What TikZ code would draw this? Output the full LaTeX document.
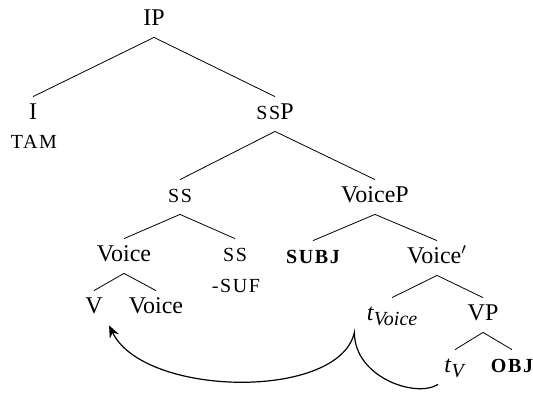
\documentclass[12pt,tikz,border=0pt]{standalone}
\usepackage{fontspec}
\setmainfont{Liberation Serif}
\newfontfamily\scfont[LetterSpace=8]{Liberation Serif}
\usepackage{tikz}
\usetikzlibrary{positioning,%
  arrows.meta%
}
\newcommand{\smc}[1]{{\footnotesize\scfont #1}}
\newcommand{\trc}[1]{\textit{t}\raisebox{-.5ex}{\footnotesize\textit{#1}}}

\begin{document}
\begin{tikzpicture}
                    [
                        x=.5pt, y=-.5pt,
                        every node/.style={anchor=base, inner sep=3pt, text height=8pt, text depth=3pt},
                        move/.style={semithick, -{Stealth[length=6pt,width=5pt]}}
                    ]

                    % Rahmen
                    \useasboundingbox (0,0) rectangle (533,393);

                    \node (ip) at (154,25) {IP};
                    \node (i) at (33,119) {I};
                    \node (tam) at (34,148) {\smc{TAM}};
                    \node (ssp) at (275,119) {\smc{SS}P};
                    \node (ss) at (180,202) {\smc{SS}};
                    \node (voicep) at (375,202) {VoiceP};
                    \node (voice) at (124,261) {Voice};
                    \node (ssx) at (235,261) {\smc{SS}};
                    \node (suf) at (236,292) {\smc{-SUF}};
                    \node (subj) at (313,263) {\smc{\bfseries SUBJ}};
                    \node (voicebar) at (437,263) {Voice$'$};
                    \node (v) at (94,313) {V};
                    \node (voicex) at (156,313) {Voice};
                    \node (tvoice) at (392,320) {\trc{Voice}};
                    \node (vp) at (483,320) {VP};
                    \node (tv) at (455,372) {\trc{V}};
                    \node (obj) at (512,372) {\smc{\bfseries OBJ}};

                    \draw (ip.south) -- (i.north);
                    \draw (ip.south) -- (ssp.north);
                    \draw (ssp.south) -- (ss.north);
                    \draw (ssp.south) -- (voicep.north);
                    \draw (ss.south) -- (voice.north);
                    \draw (ss.south) -- (ssx.north);
                    \draw (voice.south) -- (v.north);
                    \draw (voice.south) -- (voicex.north);
                    \draw (voicep.south) -- (subj.north);
                    \draw (voicep.south) -- (voicebar.north);
                    \draw (voicebar.south) -- (tvoice.north);
                    \draw (voicebar.south) -- (vp.north);
                    \draw (vp.south) -- (tv.north);
                    \draw (vp.south) -- (obj.north);

                    % Bewegung
                    \draw[move] (tv.south west) .. controls +(-22,14) and +(0,45) .. ([xshift=-3pt]tvoice.south west)
                        .. controls +(-15,68) and +(35,72) .. (v.south east);
\end{tikzpicture}
\end{document}
